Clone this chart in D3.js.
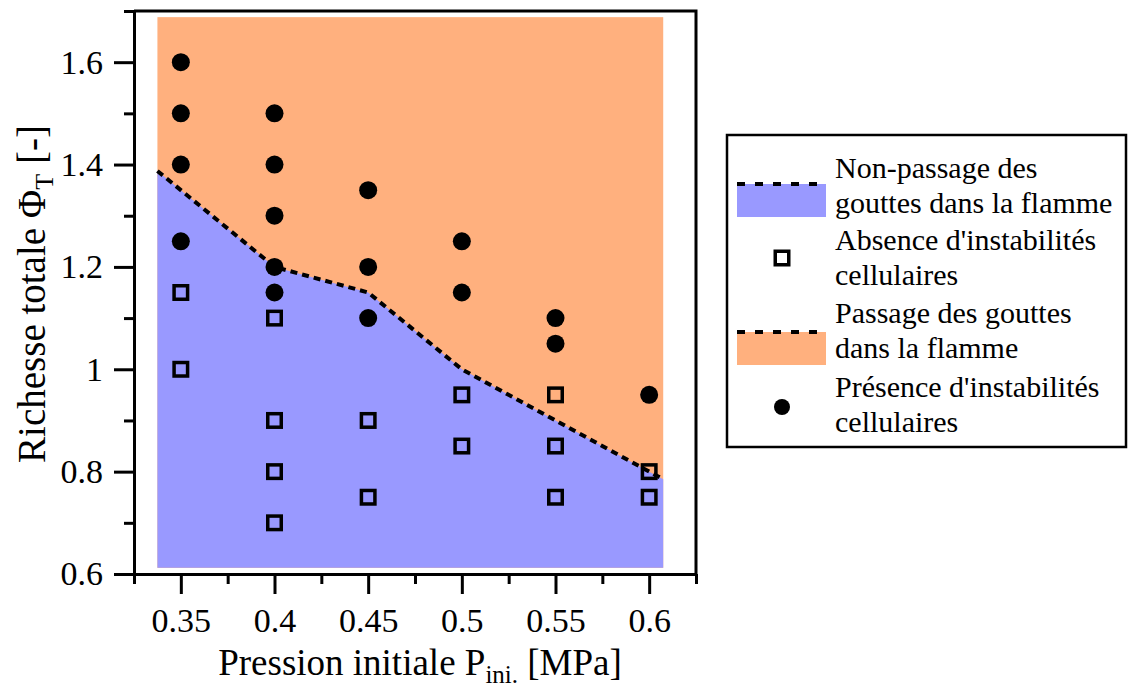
<!DOCTYPE html>
<html>
<head>
<meta charset="utf-8">
<script src="https://cdn.jsdelivr.net/npm/d3@7"></script>
<style>
  html, body { margin: 0; padding: 0; background: #fff; }
  svg { display: block; }
  svg text { font-family: 'Liberation Serif', 'Times New Roman', Times, serif; }
</style>
</head>
<body>
<svg id="chart" width="1129" height="689"></svg>
<script>
// ---- data ----
const xTicks = [0.35, 0.4, 0.45, 0.5, 0.55, 0.6];
const xTickLabels = ["0.35", "0.4", "0.45", "0.5", "0.55", "0.6"];
const xMinorTicks = [0.325, 0.375, 0.425, 0.475, 0.525, 0.575, 0.625];
const yTicks = [0.6, 0.8, 1.0, 1.2, 1.4, 1.6];
const yTickLabels = ["0.6", "0.8", "1", "1.2", "1.4", "1.6"];
const yMinorTicks = [0.7, 0.9, 1.1, 1.3, 1.5, 1.7];

// boundary between the two regions (dashed line)
const boundaryP = [0.3375, 0.35, 0.4, 0.45, 0.5, 0.55, 0.6, 0.6075];
const boundaryPhi = [1.3875, 1.35, 1.2, 1.15, 1.0, 0.9, 0.8, 0.785];
// extent of the coloured regions
const fillP = [0.3375, 0.6075];
const fillPhi = [0.612, 1.688];

// Présence d'instabilités cellulaires (filled circles)
const presenceP = [0.35, 0.35, 0.35, 0.35, 0.4, 0.4, 0.4, 0.4, 0.4, 0.45, 0.45, 0.45, 0.5, 0.5, 0.55, 0.55, 0.6];
const presencePhi = [1.6, 1.5, 1.4, 1.25, 1.5, 1.4, 1.3, 1.2, 1.15, 1.35, 1.2, 1.1, 1.25, 1.15, 1.1, 1.05, 0.95];
// Absence d'instabilités cellulaires (open squares)
const absenceP = [0.35, 0.35, 0.4, 0.4, 0.4, 0.4, 0.45, 0.45, 0.5, 0.5, 0.55, 0.55, 0.55, 0.6, 0.6];
const absencePhi = [1.15, 1.0, 1.1, 0.9, 0.8, 0.7, 0.9, 0.75, 0.95, 0.85, 0.95, 0.85, 0.75, 0.8, 0.75];

const legendLabels = [
  ["Non-passage des", "gouttes dans la flamme"],
  ["Absence d'instabilités", "cellulaires"],
  ["Passage des gouttes", "dans la flamme"],
  ["Présence d'instabilités", "cellulaires"]
];

// ---- styles ----
const BLUE = "#9999FF";
const ORANGE = "#FFB07E";
const FONT = "'Liberation Serif', 'Times New Roman', Times, serif";

const svg = d3.select("#chart");
const x = d3.scaleLinear().domain([0.325, 0.625]).range([134, 696]);
const y = d3.scaleLinear().domain([0.6, 1.7]).range([574, 11]);

// regions
svg.append("rect")
  .attr("x", x(fillP[0])).attr("y", y(fillPhi[1]))
  .attr("width", x(fillP[1]) - x(fillP[0]))
  .attr("height", y(fillPhi[0]) - y(fillPhi[1]))
  .attr("fill", ORANGE);

const bnd = boundaryP.map((p, i) => [p, boundaryPhi[i]]);
svg.append("path")
  .datum(bnd)
  .attr("fill", BLUE)
  .attr("d", d3.area().x(d => x(d[0])).y0(y(fillPhi[0])).y1(d => y(d[1])));

svg.append("path")
  .datum(bnd)
  .attr("fill", "none")
  .attr("stroke", "#000")
  .attr("stroke-width", 4)
  .attr("stroke-dasharray", "7,5")
  .attr("stroke-linecap", "butt")
  .attr("d", d3.line().x(d => x(d[0])).y(d => y(d[1])));

// markers
svg.append("g").selectAll("circle")
  .data(presenceP.map((p, i) => [p, presencePhi[i]]))
  .join("circle")
  .attr("cx", d => x(d[0])).attr("cy", d => y(d[1]))
  .attr("r", 9).attr("fill", "#000");

const sq = 13.5;
svg.append("g").selectAll("rect")
  .data(absenceP.map((p, i) => [p, absencePhi[i]]))
  .join("rect")
  .attr("x", d => x(d[0]) - sq / 2).attr("y", d => y(d[1]) - sq / 2)
  .attr("width", sq).attr("height", sq)
  .attr("fill", "none").attr("stroke", "#000").attr("stroke-width", 3.5);

// frame top & right
svg.append("path")
  .attr("d", `M${x(0.325)},${y(1.7)}H${x(0.625)}V${y(0.6)}`)
  .attr("fill", "none").attr("stroke", "#000").attr("stroke-width", 3);

// axes
function styleAxis(g) {
  g.attr("font-family", null).attr("font-size", null);
  g.selectAll("path.domain").attr("stroke-width", 3);
  g.selectAll("line").attr("stroke-width", 3);
  g.selectAll("text").style("font-family", FONT).style("font-size", "34px").attr("fill", "#000");
}
// minor
svg.append("g").attr("transform", `translate(0,${y(0.6)})`)
  .call(d3.axisBottom(x).tickValues(xMinorTicks).tickSize(10).tickSizeOuter(0).tickFormat(""))
  .call(styleAxis);
svg.append("g").attr("transform", `translate(${x(0.325)},0)`)
  .call(d3.axisLeft(y).tickValues(yMinorTicks).tickSize(10).tickSizeOuter(0).tickFormat(""))
  .call(styleAxis);
// major
svg.append("g").attr("transform", `translate(0,${y(0.6)})`)
  .call(d3.axisBottom(x).tickValues(xTicks).tickSize(20).tickSizeOuter(0).tickPadding(14)
    .tickFormat((d, i) => xTickLabels[i]))
  .call(styleAxis);
svg.append("g").attr("transform", `translate(${x(0.325)},0)`)
  .call(d3.axisLeft(y).tickValues(yTicks).tickSize(20).tickSizeOuter(0).tickPadding(11)
    .tickFormat((d, i) => yTickLabels[i]))
  .call(styleAxis);

// axis titles
const xt = svg.append("text")
  .attr("x", 420).attr("y", 675)
  .attr("text-anchor", "middle")
  .style("font-family", FONT).style("font-size", "37px").attr("fill", "#000");
xt.append("tspan").text("Pression initiale P");
xt.append("tspan").style("font-size", "25px").attr("dy", 8).text("ini.");
xt.append("tspan").attr("dy", -8).text(" [MPa]");

const yt = svg.append("text")
  .attr("transform", "translate(45,294) rotate(-90)")
  .attr("text-anchor", "middle")
  .style("font-family", FONT).style("font-size", "39px").attr("fill", "#000");
yt.append("tspan").text("Richesse totale Φ");
yt.append("tspan").style("font-size", "26px").attr("dy", 8).text("T");
yt.append("tspan").attr("dy", -8).text(" [-]");

// legend
const lg = svg.append("g");
lg.append("rect").attr("x", 727).attr("y", 135).attr("width", 399).attr("height", 312)
  .attr("fill", "#fff").attr("stroke", "#000").attr("stroke-width", 2.5);

const entryY = [178, 250, 323, 397];
const fills = [BLUE, null, ORANGE, null];
legendLabels.forEach((lines, i) => {
  const by = entryY[i];
  lines.forEach((t, j) => {
    lg.append("text").attr("x", 835).attr("y", by + j * 35)
      .style("font-family", FONT).style("font-size", "30px").attr("fill", "#000").text(t);
  });
  if (i === 0 || i === 2) {
    const top = i === 0 ? 184 : 332;
    lg.append("rect").attr("x", 737).attr("y", top).attr("width", 89).attr("height", 33).attr("fill", fills[i]);
    lg.append("line").attr("x1", 737).attr("x2", 822).attr("y1", top).attr("y2", top)
      .attr("stroke", "#000").attr("stroke-width", 4).attr("stroke-dasharray", "8,10");
  } else if (i === 1) {
    lg.append("rect").attr("x", 782 - sq / 2).attr("y", 258 - sq / 2).attr("width", sq).attr("height", sq)
      .attr("fill", "none").attr("stroke", "#000").attr("stroke-width", 3.5);
  } else {
    lg.append("circle").attr("cx", 782).attr("cy", 407).attr("r", 8).attr("fill", "#000");
  }
});
</script>
</body>
</html>
